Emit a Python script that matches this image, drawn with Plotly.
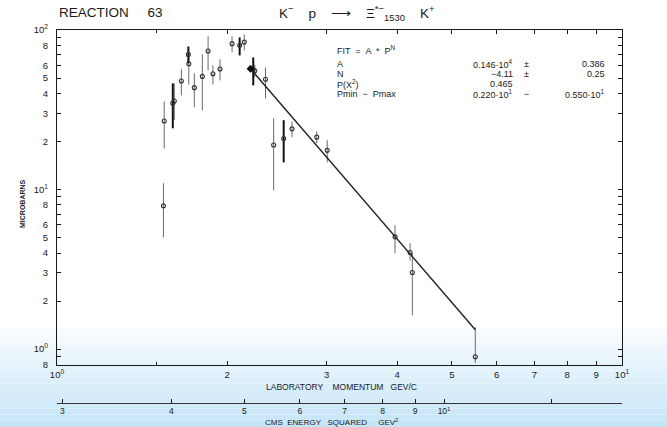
import numpy as np
import plotly.graph_objects as go

# ---- measured cross sections: K- p -> Xi*-(1530) K+ ----
P_LAB = [1.543, 1.548, 1.603, 1.613, 1.660, 1.708, 1.711, 1.750, 1.808, 1.851,
         1.888, 1.943, 2.041, 2.105, 2.145, 2.225, 2.239, 2.339, 2.418, 2.519,
         2.606, 2.882, 3.008, 3.965, 4.216, 4.255, 5.50]
SIGMA = [7.9, 26.9, 34.8, 35.9, 47.9, 70.3, 61.5, 43.5, 51.2, 73.8,
         53.2, 56.9, 82.1, 80.1, 84.0, 56.5, 55.5, 49.1, 19.0, 20.9,
         24.0, 21.3, 17.6, 5.05, 4.03, 3.02, 0.895]
ERR_UP = [3.05, 8.8, 11.5, 10.4, 8.8, 8.6, 10.0, 10.0, 19.1, 17.4,
          6.8, 8.6, 9.1, 9.8, 9.8, 10.8, 5.0, 9.2, 9.0, 6.3,
          2.8, 1.9, 2.8, 0.93, 0.58, 0.97, 0.475]
ERR_DN = [2.87, 8.8, 10.6, 8.7, 9.0, 8.5, 16.0, 10.7, 19.8, 18.0,
          7.6, 8.6, 9.7, 10.8, 9.5, 11.5, 5.0, 11.8, 9.1, 6.1,
          2.7, 1.8, 2.8, 1.06, 0.45, 1.39, 0.078]
# points printed with a heavy error bar
HEAVY = [2, 5, 13, 15, 19]

# ---- power-law fit  sigma = A * P^N ----
FIT_A, FIT_A_ERR = 0.146e4, 0.386
FIT_N, FIT_N_ERR = -4.11, 0.25
FIT_PROB = 0.465
P_MIN, P_MAX = 2.20, 5.50

# ---- axis tick labels ----
X_TICKS = [1, 2, 3, 4, 5, 6, 7, 8, 9, 10]
X_TEXT = ["10<sup>0</sup>", "2", "3", "4", "5", "6", "7", "8", "9", "10<sup>1</sup>"]
Y_TICKS = [0.8, 0.9, 1, 2, 3, 4, 5, 6, 7, 8, 9, 10, 20, 30, 40, 50, 60, 70, 80, 90, 100]
Y_TEXT = ["8", "", "10<sup>0</sup>", "2", "3", "4", "5", "6", "", "8", "",
          "10<sup>1</sup>", "2", "3", "4", "5", "6", "", "8", "", "10<sup>2</sup>"]
S_TICKS = [3, 4, 5, 6, 7, 8, 9, 10, 15]
S_TEXT = ["3", "4", "5", "6", "7", "8", "9", "10<sup>1</sup>", ""]

# kinematics for the CMS-energy-squared scale
M_P, M_K, S0 = 0.938, 0.4937, 0.87


def p_of_s(s):
    e_k = (s - S0) / (2 * M_P)
    return float(np.sqrt(e_k ** 2 - M_K ** 2))


def sci(v):
    exp = int(np.floor(np.log10(abs(v)))) + 1
    return f"{v / 10 ** exp:.3f}\u00b710<sup>{exp}</sup>"


FONT = "Liberation Sans, Arial, sans-serif"
INK = "#1a1a1a"

fig = go.Figure()

# light band behind the lower part of the page
top_px, bot_px = 328, 427
n = 16
c0, c1 = np.array([250, 253, 255]), np.array([196, 229, 247])
for i in range(n):
    y0p = top_px + (bot_px - top_px) * i / n
    y1p = top_px + (bot_px - top_px) * (i + 1) / n
    c = (c0 + (c1 - c0) * (i + 0.5) / n).astype(int)
    fig.add_shape(type="rect", xref="paper", yref="paper", layer="below",
                  x0=-57 / 565, x1=610 / 565,
                  y0=(403 - y1p) / 373, y1=(403 - y0p) / 373,
                  fillcolor=f"rgb({c[0]},{c[1]},{c[2]})", line_width=0)

# data with error bars: light and heavy bars as separate traces
light = [i for i in range(len(P_LAB)) if i not in HEAVY]
for idx, col, th in ((light, "#6a6a6a", 1.0), (HEAVY, "#111111", 2.0)):
    fig.add_trace(go.Scatter(
        x=[P_LAB[i] for i in idx], y=[SIGMA[i] for i in idx],
        mode="markers",
        marker=dict(symbol="circle-open", size=4, color="#333333", line=dict(width=1.1)),
        error_y=dict(type="data", symmetric=False,
                     array=[ERR_UP[i] for i in idx],
                     arrayminus=[ERR_DN[i] for i in idx],
                     color=col, thickness=th, width=0),
        showlegend=False, hoverinfo="x+y"))

# fitted curve over its momentum range
pf = np.geomspace(P_MIN, P_MAX, 60)
fig.add_trace(go.Scatter(x=pf, y=FIT_A * pf ** FIT_N, mode="lines",
                         line=dict(color="#222222", width=1.4),
                         showlegend=False, hoverinfo="skip"))
fig.add_trace(go.Scatter(x=[P_MIN], y=[FIT_A * P_MIN ** FIT_N], mode="markers",
                         marker=dict(symbol="diamond", size=6, color="#111111"),
                         showlegend=False, hoverinfo="skip"))

# invisible trace so the CMS scale axis is drawn
fig.add_trace(go.Scatter(x=[P_LAB[0]], y=[SIGMA[0]], xaxis="x2", mode="markers",
                         marker=dict(opacity=0), showlegend=False, hoverinfo="skip"))

tick_font = dict(family=FONT, size=9.5, color=INK)
fig.update_layout(
    width=667, height=427,
    margin=dict(l=57, r=45, t=30, b=24),
    paper_bgcolor="white", plot_bgcolor="rgba(0,0,0,0)",
    xaxis=dict(type="log", range=[0, 1], anchor="y",
               showline=True, linecolor=INK, linewidth=1.2, mirror="ticks",
               ticks="inside", ticklen=4, tickcolor=INK, tickwidth=1,
               tickvals=X_TICKS, ticktext=X_TEXT, tickfont=tick_font,
               ticklabelstandoff=0,
               minor=dict(tickvals=[1.5], ticks="inside", ticklen=3, tickcolor=INK),
               showgrid=False, zeroline=False),
    yaxis=dict(type="log", range=[-0.1, 2.0], domain=[38 / 373, 1],
               showline=True, linecolor=INK, linewidth=1.2, mirror="ticks",
               ticks="inside", ticklen=4, tickcolor=INK, tickwidth=1,
               tickvals=Y_TICKS, ticktext=Y_TEXT, tickfont=tick_font,
               ticklabelstandoff=6,
               showgrid=False, zeroline=False),
    xaxis2=dict(type="log", range=[0, 1], overlaying="x", anchor="free", position=0,
                side="bottom", showline=True, linecolor="#333333", linewidth=1,
                ticks="inside", ticklen=4, tickcolor=INK,
                tickvals=[p_of_s(s) for s in S_TICKS], ticktext=S_TEXT,
                tickfont=dict(family=FONT, size=8.5, color=INK),
                ticklabelstandoff=0, showgrid=False, zeroline=False),
)

ann = []


def txt(x, y, s, size=9, xanchor="left", **kw):
    ann.append(dict(x=x, y=y, xref="paper", yref="paper", text=s, showarrow=False,
                    xanchor=xanchor, yanchor="middle",
                    font=dict(family=FONT, size=size, color=INK), **kw))


def px(xp):
    return (xp - 57) / 565


def py(yp):
    return (403 - yp) / 373


# titles
txt(px(57), py(13), "REACTION &nbsp;&nbsp;&nbsp; 63", size=13.5)
txt(px(277), py(13),
    "K<sup>\u2212</sup> &nbsp;&nbsp; p &nbsp;&nbsp; \u27f6 &nbsp;&nbsp; \u039e<sup>*\u2212</sup><sub>1530</sub> &nbsp;&nbsp; K<sup>+</sup>",
    size=13.5)
txt(px(22), py(204), "<b>MICROBARNS</b>", size=7, xanchor="center", textangle=-90)
txt(px(341), py(387), "LABORATORY &nbsp;&nbsp; MOMENTUM &nbsp; GEV/C", size=8.5, xanchor="center")
txt(px(331), py(422), "CMS &nbsp;ENERGY &nbsp; SQUARED &nbsp;&nbsp;&nbsp; GEV<sup>2</sup>",
    size=8, xanchor="center")

# fit summary
fs = 9
txt(px(335), py(50), "FIT &nbsp;= &nbsp;A &nbsp;* &nbsp;P<sup>N</sup>", size=fs)
rows = [
    ("A", sci(FIT_A), "\u00b1", f"{FIT_A_ERR:.3f}", 64),
    ("N", f"\u2212{abs(FIT_N):.2f}", "\u00b1", f"{FIT_N_ERR:.2f}", 74),
    ("P(X<sup>2</sup>)", f"{FIT_PROB:.3f}", "", "", 84),
    ("Pmin &nbsp;\u2212 &nbsp;Pmax", sci(P_MIN), "\u2212", sci(P_MAX), 94),
]
for lab, val, sep, err, yp in rows:
    txt(px(335), py(yp), lab, size=fs)
    txt(px(515), py(yp), val, size=fs, xanchor="right")
    if sep:
        txt(px(526), py(yp), sep, size=fs, xanchor="center")
    if err:
        txt(px(607), py(yp), err, size=fs, xanchor="right")

fig.update_layout(annotations=ann)
fig.write_html("out.html")
